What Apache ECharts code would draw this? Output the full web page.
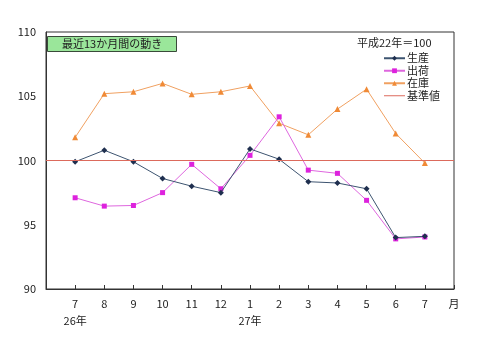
<!DOCTYPE html>
<html lang="ja">
<head>
    <meta charset="UTF-8">
    <title>最近13か月間の動き</title>
    <script src="https://cdn.jsdelivr.net/npm/echarts@6/dist/echarts.min.js"></script>
    <style>
        html, body { margin: 0; padding: 0; background: #fff; }
        #chart { width: 480px; height: 351px; }
    </style>
</head>
<body>
<div id="chart"></div>
<script type="text/javascript">
    // 月ラベル（先頭と末尾は余白・「月」用）
    var months = ['', '7', '8', '9', '10', '11', '12', '1', '2', '3', '4', '5', '6', '7', '月'];
    var years = ['', '26年', '', '', '', '', '', '27年', '', '', '', '', '', '', ''];

    // 指数（平成22年＝100）
    var seisan = [99.9, 100.8, 99.9, 98.6, 98.0, 97.5, 100.9, 100.1, 98.35, 98.25, 97.8, 94.0, 94.1];
    var shukka = [97.1, 96.45, 96.5, 97.5, 99.7, 97.8, 100.4, 103.4, 99.25, 99.0, 96.9, 93.9, 94.05];
    var zaiko = [101.8, 105.2, 105.35, 106.0, 105.15, 105.35, 105.8, 102.9, 102.0, 104.0, 105.55, 102.1, 99.8];
    var baseValue = 100;

    var yTicks = { min: 90, max: 110, interval: 5 };

    function pad(arr) {
        return [null].concat(arr, [null]);
    }

    var font = '"Noto Sans CJK JP", "Noto Sans", sans-serif';
    var chart = echarts.init(document.getElementById('chart'));

    var option = {
        animation: false,
        textStyle: { fontFamily: font },
        title: [
            {
                text: '最近13か月間の動き',
                left: 47,
                top: 36,
                padding: [1, 15, 1, 15],
                backgroundColor: '#9ae69a',
                borderColor: '#3a4a3a',
                borderWidth: 1,
                textStyle: { fontSize: 11, fontWeight: 'normal', color: '#222', fontFamily: font, lineHeight: 14 }
            },
            {
                text: '平成22年＝100',
                left: 357,
                top: 37,
                padding: 0,
                textStyle: { fontSize: 11, fontWeight: 'normal', color: '#222', fontFamily: font }
            }
        ],
        legend: {
            orient: 'vertical',
            left: 383,
            top: 52,
            padding: 0,
            itemWidth: 21,
            itemHeight: 6,
            itemGap: 0,
            textStyle: { fontSize: 11, color: '#222', lineHeight: 12.5, padding: [0, 0, 0, -3] },
            data: ['生産', '出荷', '在庫', { name: '基準値', icon: 'path://M0,0H42V2H0Z' }]
        },
        grid: {
            left: 46, right: 26, top: 32, bottom: 62,
            show: true,
            borderColor: '#333',
            borderWidth: 1
        },
        xAxis: {
            type: 'category',
            boundaryGap: false,
            data: months,
            axisLine: { lineStyle: { color: '#333' } },
            axisTick: { inside: true, length: 4, lineStyle: { color: '#333' } },
            axisLabel: {
                interval: 0,
                margin: 6,
                fontSize: 11,
                lineHeight: 17,
                color: '#222',
                formatter: function (v, i) {
                    return years[i] ? v + '\n' + years[i] : v;
                }
            },
            splitLine: { show: false }
        },
        yAxis: {
            type: 'value',
            min: yTicks.min,
            max: yTicks.max,
            interval: yTicks.interval,
            axisLine: { show: true, lineStyle: { color: '#333' } },
            axisTick: { show: false },
            axisLabel: { fontSize: 11, color: '#222', margin: 10 },
            splitLine: { show: false }
        },
        series: [
            {
                name: '生産',
                type: 'line',
                data: pad(seisan),
                symbol: 'diamond',
                symbolSize: 6,
                color: '#1f2f4f',
                lineStyle: { width: 1, color: '#3d5470' },
                itemStyle: { color: '#1f2f4f' },
                z: 4
            },
            {
                name: '出荷',
                type: 'line',
                data: pad(shukka),
                symbol: 'rect',
                symbolSize: 5,
                color: '#dd22dd',
                lineStyle: { width: 1, color: '#de66de' },
                itemStyle: { color: '#dd22dd' },
                z: 3
            },
            {
                name: '在庫',
                type: 'line',
                data: pad(zaiko),
                symbol: 'triangle',
                symbolSize: 6,
                color: '#f08a36',
                lineStyle: { width: 1, color: '#f0a060' },
                itemStyle: { color: '#f08a36' },
                z: 2
            },
            {
                name: '基準値',
                type: 'line',
                data: [],
                symbol: 'none',
                color: '#dc6a5c',
                itemStyle: { color: '#dc6a5c' },
                lineStyle: { width: 1, color: '#dc6a5c' },
                markLine: {
                    silent: true,
                    symbol: 'none',
                    label: { show: false },
                    lineStyle: { type: 'solid', width: 1, color: '#dc6a5c' },
                    data: [{ yAxis: baseValue }]
                },
                z: 1
            }
        ]
    };

    chart.setOption(option);
</script>
</body>
</html>
